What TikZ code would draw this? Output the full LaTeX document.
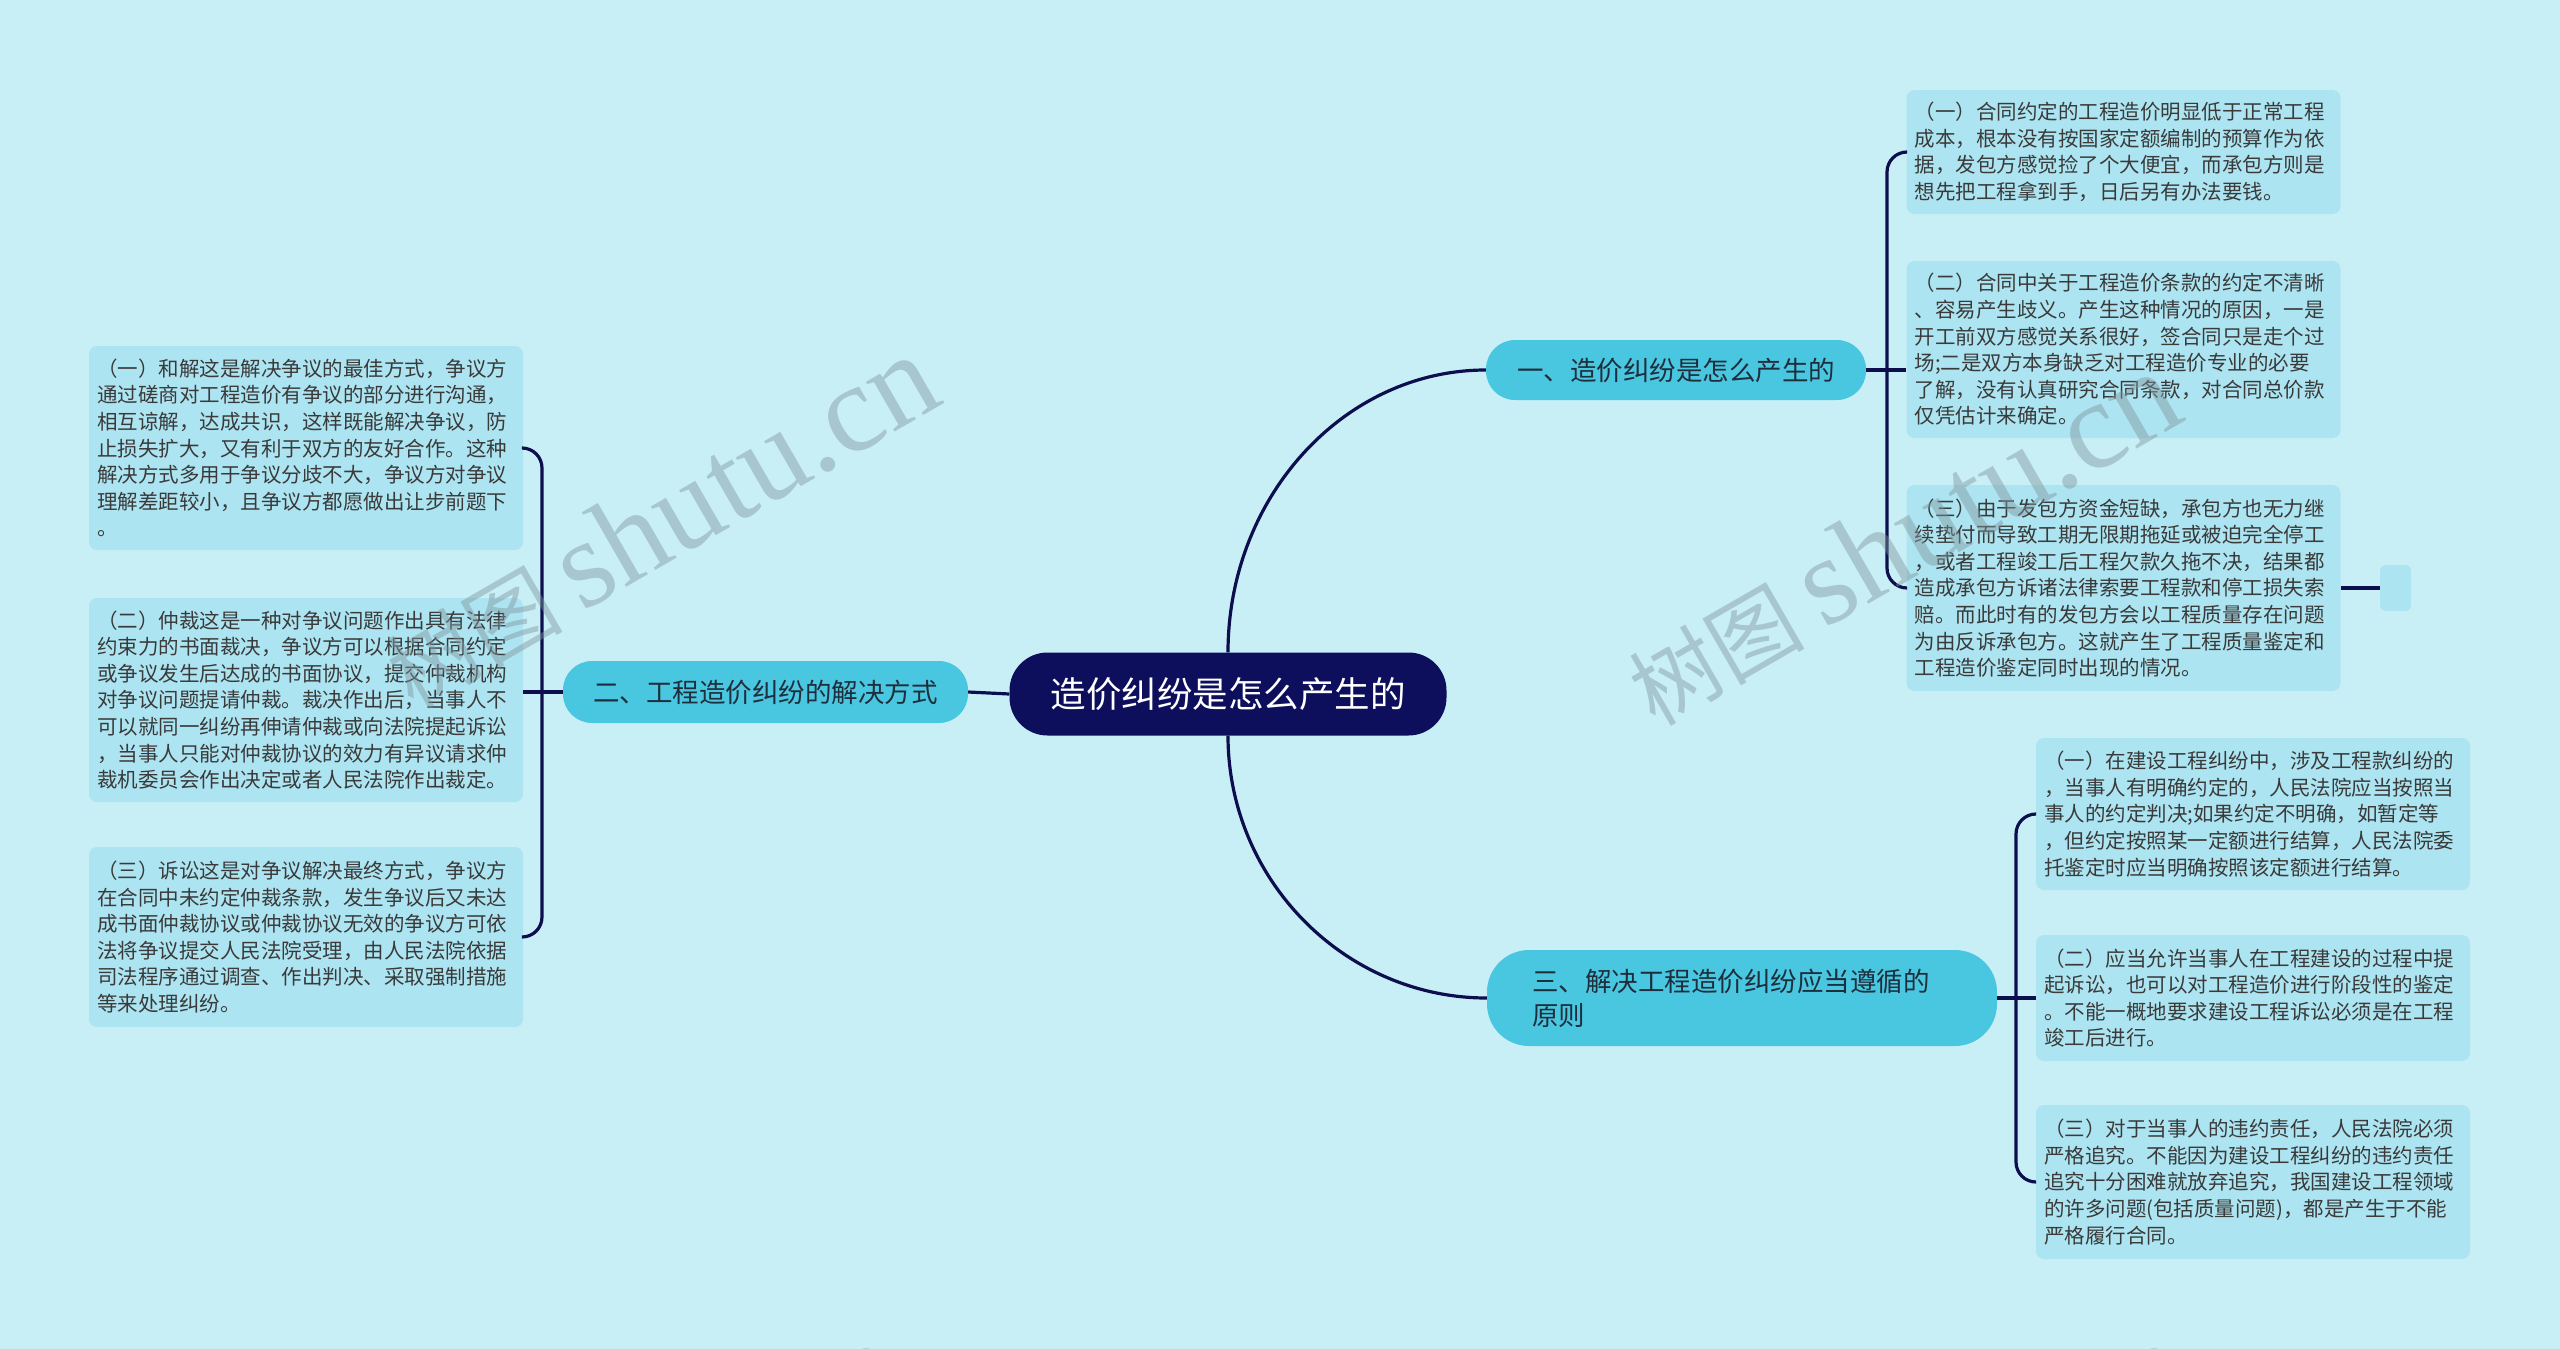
\documentclass[tikz,border=0pt]{standalone}
\usepackage{fontspec}
\newfontfamily\cjk{Noto Sans CJK SC}
\newfontfamily\wmserif{Liberation Serif}
\definecolor{bgc}{HTML}{C9EFF6}
\definecolor{leafc}{HTML}{ADE4F1}
\definecolor{branchc}{HTML}{4AC7E0}
\definecolor{centralc}{HTML}{0D0E5C}
\definecolor{linec}{HTML}{0D0E4E}
\definecolor{leaftext}{HTML}{3A3A3A}
\definecolor{branchtext}{HTML}{1E2E3C}
\definecolor{wmc}{HTML}{7E969E}
\begin{document}
\begin{tikzpicture}[x=1pt,y=-1pt,
  leafbox/.style={fill=leafc, rounded corners=8pt, text width=418pt, align=left,
    inner xsep=8pt, inner ysep=3pt, text=leaftext,
    font=\cjk\fontsize{20.5}{26.6}\selectfont},
  branchbox/.style={fill=branchc, rounded corners=29pt, text=branchtext, inner sep=0pt,
    font=\cjk\fontsize{26.5}{34}\selectfont},
  centralbox/.style={fill=centralc, rounded corners=38pt, text=white, inner sep=0pt,
    font=\cjk\fontsize{35.5}{40}\selectfont},
  conn/.style={draw=linec, line width=3.2pt},
  wm/.style={text=wmc, text opacity=0.45, rotate=30, inner sep=0pt}
]
\useasboundingbox (0,0) rectangle (2560,1349);
\fill[bgc] (0,0) rectangle (2560,1349);

% central and branches
\node[centralbox, minimum width=437pt, minimum height=83pt] (c) at (1228,694) {造价纠纷是怎么产生的};
\node[branchbox, minimum width=380pt, minimum height=60pt] (b1) at (1676,370) {一、造价纠纷是怎么产生的};
\node[branchbox, minimum width=405pt, minimum height=62pt] (b2) at (765.5,692) {二、工程造价纠纷的解决方式};
\node[branchbox, rounded corners=42pt, minimum width=510pt, minimum height=96pt, text width=420pt, align=left, inner xsep=45pt] (b3) at (1742,998) {三、解决工程造价纠纷应当遵循的\\原则};

% right-top leaves
\node[leafbox, minimum height=124pt] (l1a) at (2123.5,152) {（一）合同约定的工程造价明显低于正常工程\\成本，根本没有按国家定额编制的预算作为依\\据，发包方感觉捡了个大便宜，而承包方则是\\想先把工程拿到手，日后另有办法要钱。};
\node[leafbox, minimum height=177pt] (l1b) at (2123.5,349.5) {（二）合同中关于工程造价条款的约定不清晰\\、容易产生歧义。产生这种情况的原因，一是\\开工前双方感觉关系很好，签合同只是走个过\\场;二是双方本身缺乏对工程造价专业的必要\\了解，没有认真研究合同条款，对合同总价款\\仅凭估计来确定。};
\node[leafbox, minimum height=206pt] (l1c) at (2123.5,588) {（三）由于发包方资金短缺，承包方也无力继\\续垫付而导致工期无限期拖延或被迫完全停工\\，或者工程竣工后工程欠款久拖不决，结果都\\造成承包方诉诸法律索要工程款和停工损失索\\赔。而此时有的发包方会以工程质量存在问题\\为由反诉承包方。这就产生了工程质量鉴定和\\工程造价鉴定同时出现的情况。};
\node[fill=leafc, rounded corners=6pt, minimum width=31pt, minimum height=46pt, inner sep=0pt] (s) at (2395.5,588) {};

% right-bottom leaves
\node[leafbox, minimum height=152pt] (l3a) at (2253,814) {（一）在建设工程纠纷中，涉及工程款纠纷的\\，当事人有明确约定的，人民法院应当按照当\\事人的约定判决;如果约定不明确，如暂定等\\，但约定按照某一定额进行结算，人民法院委\\托鉴定时应当明确按照该定额进行结算。};
\node[leafbox, minimum height=126pt] (l3b) at (2253,998) {（二）应当允许当事人在工程建设的过程中提\\起诉讼，也可以对工程造价进行阶段性的鉴定\\。不能一概地要求建设工程诉讼必须是在工程\\竣工后进行。};
\node[leafbox, minimum height=154pt] (l3c) at (2253,1182) {（三）对于当事人的违约责任，人民法院必须\\严格追究。不能因为建设工程纠纷的违约责任\\追究十分困难就放弃追究，我国建设工程领域\\的许多问题(包括质量问题)，都是产生于不能\\严格履行合同。};

% left leaves
\node[leafbox, minimum height=204pt] (l2a) at (306,448) {（一）和解这是解决争议的最佳方式，争议方\\通过磋商对工程造价有争议的部分进行沟通，\\相互谅解，达成共识，这样既能解决争议，防\\止损失扩大，又有利于双方的友好合作。这种\\解决方式多用于争议分歧不大，争议方对争议\\理解差距较小，且争议方都愿做出让步前题下\\。};
\node[leafbox, minimum height=204pt] (l2b) at (306,700) {（二）仲裁这是一种对争议问题作出具有法律\\约束力的书面裁决，争议方可以根据合同约定\\或争议发生后达成的书面协议，提交仲裁机构\\对争议问题提请仲裁。裁决作出后，当事人不\\可以就同一纠纷再伸请仲裁或向法院提起诉讼\\，当事人只能对仲裁协议的效力有异议请求仲\\裁机委员会作出决定或者人民法院作出裁定。};
\node[leafbox, minimum height=180pt] (l2c) at (306,937) {（三）诉讼这是对争议解决最终方式，争议方\\在合同中未约定仲裁条款，发生争议后又未达\\成书面仲裁协议或仲裁协议无效的争议方可依\\法将争议提交人民法院受理，由人民法院依据\\司法程序通过调查、作出判决、采取强制措施\\等来处理纠纷。};

% connectors: central to branches
\draw[conn] (c.north) .. controls (1228,497) and (1344,370) .. (b1.west);
\draw[conn] (c.south) .. controls (1228,880) and (1345,998) .. (b3.west);
\draw[conn] (c.west) -- (b2.east);

% group 1
\coordinate (j1) at (1887,370);
\draw[conn] (b1.east) -- (j1);
\draw[conn, rounded corners=20pt] (j1) -- (j1 |- l1a.west) -- (l1a.west);
\draw[conn] (j1) -- (l1b.west |- j1);
\draw[conn, rounded corners=20pt] (j1) -- (j1 |- l1c.west) -- (l1c.west);
\draw[conn] (l1c.east) -- (s.west);

% group 3
\coordinate (j3) at (2016,998);
\draw[conn] (b3.east) -- (j3);
\draw[conn, rounded corners=20pt] (j3) -- (j3 |- l3a.west) -- (l3a.west);
\draw[conn] (j3) -- (l3b.west);
\draw[conn, rounded corners=20pt] (j3) -- (j3 |- l3c.west) -- (l3c.west);

% group 2
\coordinate (j2) at (542,692);
\draw[conn] (b2.west) -- (j2);
\draw[conn, rounded corners=20pt] (j2) -- (j2 |- l2a.east) -- (l2a.east);
\draw[conn] (j2) -- (l2b.east |- j2);
\draw[conn, rounded corners=20pt] (j2) -- (j2 |- l2c.east) -- (l2c.east);

% watermarks
\begin{scope}
\clip (0,0) rectangle (2560,1349);
\node[wm] (w1) at (660,522) {\cjk\fontsize{88}{90}\selectfont 树图\ \wmserif\fontsize{125}{125}\selectfont shutu.cn};
\node[wm] (w2) at (1902,539) {\cjk\fontsize{88}{90}\selectfont 树图\ \wmserif\fontsize{125}{125}\selectfont shutu.cn};
\node[wm] (w3) at (622,1510) {\cjk\fontsize{88}{90}\selectfont 树图\ \wmserif\fontsize{125}{125}\selectfont shutu.cn};
\node[wm] (w4) at (1910,1510) {\cjk\fontsize{88}{90}\selectfont 树图\ \wmserif\fontsize{125}{125}\selectfont shutu.cn};
\end{scope}
\end{tikzpicture}
\end{document}
